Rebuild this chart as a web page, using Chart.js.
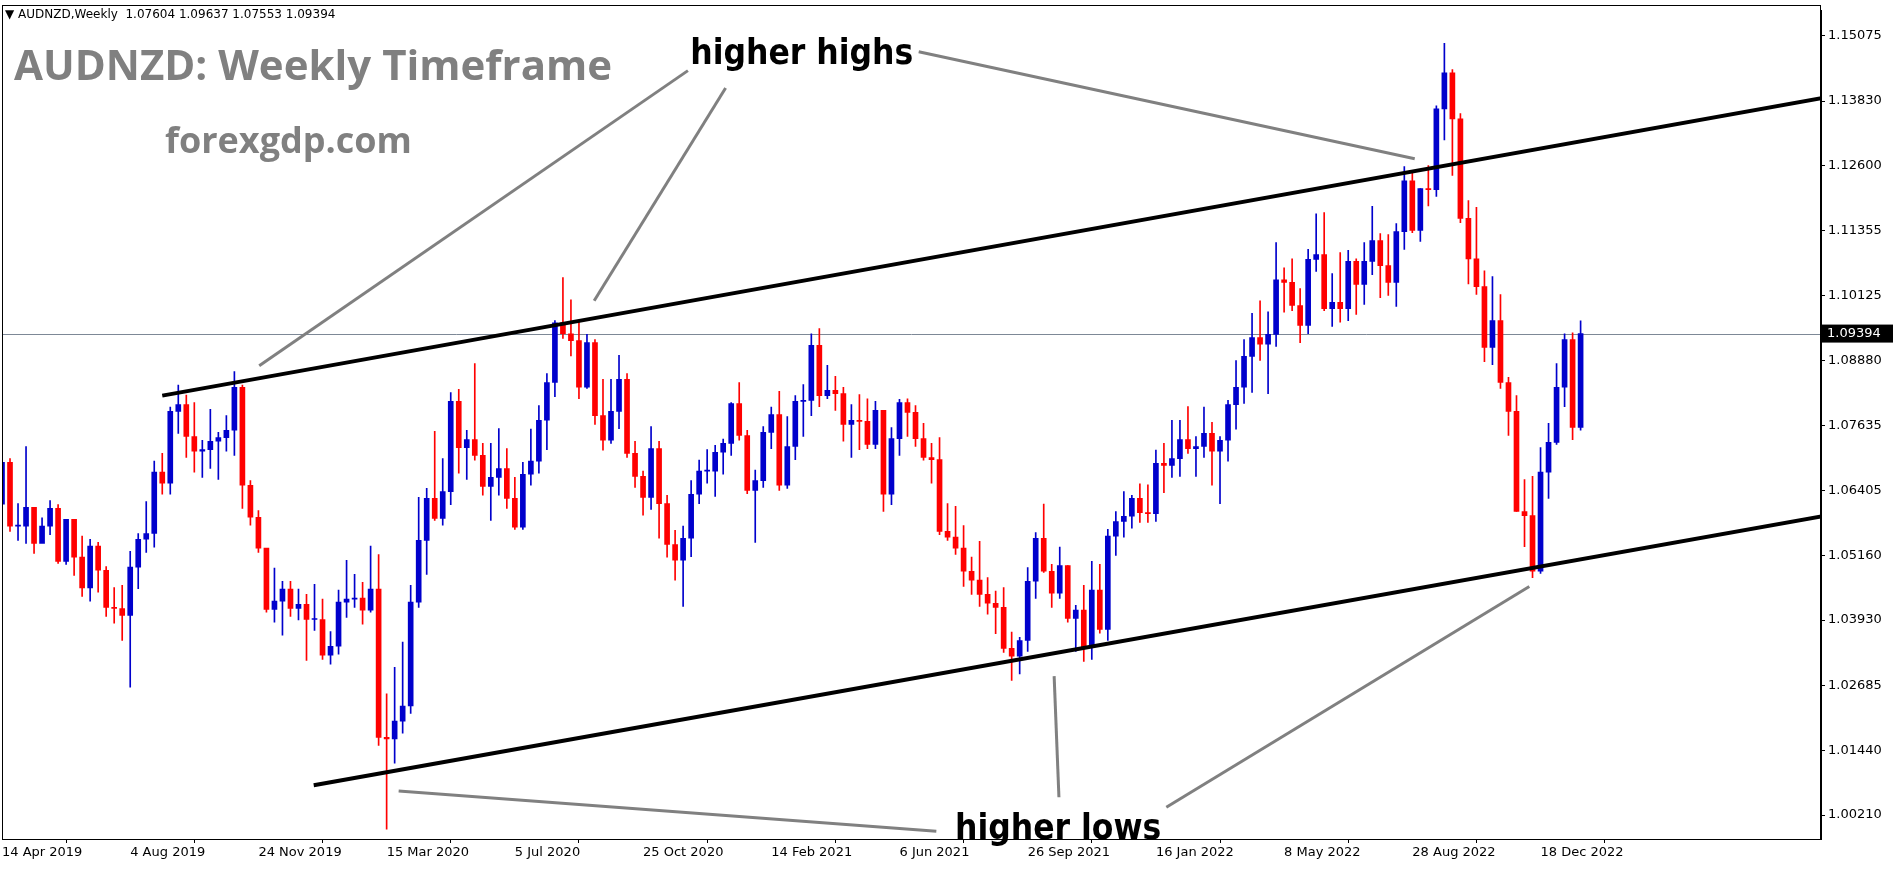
<!DOCTYPE html>
<html>
<head>
<meta charset="utf-8">
<script src="https://cdn.jsdelivr.net/npm/chart.js@4.4.0/dist/chart.umd.min.js"></script>
<style>
  html, body { margin: 0; padding: 0; background: #fff; overflow: hidden; }
  #wrap { position: relative; width: 1893px; height: 875px; }
</style>
</head>
<body>
<div id="wrap"><canvas id="grafico" width="1893" height="875"></canvas></div>
<script>
// weekly AUDNZD candles, first candle = week of 14 Apr 2019
var primeira_abertura = 1.0614;
var fechamentos = [
  1.0694,1.0572,1.0572,1.0608,1.0539,1.0572,1.0606,1.0505,1.0585,1.0513,1.0454,1.0534,1.0488,1.0417,1.0415,1.0402,
  1.0494,1.0547,1.0558,1.0675,1.0654,1.0791,1.0804,1.0743,1.0715,1.0718,1.0734,1.0741,1.0755,1.0837,1.0650,1.0589,
  1.0530,1.0413,1.0429,1.0452,1.0415,1.0423,1.0394,1.0394,1.0326,1.0343,1.0427,1.0433,1.0435,1.0412,1.0452,1.0169,
  1.0166,1.0200,1.0229,1.0427,1.0545,1.0625,1.0587,1.0638,1.0810,1.0722,1.0737,1.0707,1.0648,1.0665,1.0682,1.0625,
  1.0570,1.0671,1.0696,1.0774,1.0846,1.0960,1.0939,1.0926,1.0837,1.0922,1.0783,1.0736,1.0791,1.0852,1.0711,1.0667,
  1.0627,1.0720,1.0615,1.0537,1.0507,1.0549,1.0633,1.0677,1.0677,1.0713,1.0730,1.0806,1.0745,1.0640,1.0659,1.0751,
  1.0785,1.0650,1.0724,1.0810,1.0812,1.0917,1.0821,1.0831,1.0825,1.0766,1.0774,1.0772,1.0728,1.0793,1.0633,1.0739,
  1.0808,1.0789,1.0739,1.0703,1.0699,1.0562,1.0551,1.0530,1.0486,1.0469,1.0442,1.0425,1.0417,1.0339,1.0324,1.0354,
  1.0467,1.0549,1.0486,1.0444,1.0497,1.0396,1.0412,1.0341,1.0450,1.0375,1.0553,1.0581,1.0591,1.0625,1.0598,1.0596,
  1.0692,1.0688,1.0701,1.0737,1.0720,1.0724,1.0749,1.0715,1.0736,1.0804,1.0837,1.0896,1.0932,1.0919,1.0938,1.1042,
  1.1037,1.0993,1.0955,1.1081,1.1090,1.0987,1.0999,1.0987,1.1077,1.1033,1.1077,1.1117,1.1069,1.1037,1.1134,1.1231,
  1.1136,1.1216,1.1214,1.1368,1.1437,1.1349,1.1159,1.1082,1.1029,1.0913,1.0964,1.0846,1.0791,1.0600,1.0592,1.0486,
  1.0675,1.0732,1.0837,1.0928,1.07604,1.09394
];
var maximas = [
  1.0732,1.0701,1.0615,1.0724,1.0598,1.0588,1.0621,1.0613,1.0579,1.0579,1.0553,1.0547,1.0541,1.0495,1.0455,1.0459,
  1.0524,1.0558,1.0619,1.0696,1.0711,1.0799,1.0841,1.0822,1.0808,1.0736,1.0795,1.0751,1.0783,1.0867,1.0841,1.0659,
  1.0602,1.0528,1.0492,1.0467,1.0467,1.0452,1.0442,1.0461,1.0433,1.0371,1.0450,1.0507,1.0480,1.0465,1.0534,1.0518,
  1.0252,1.0303,1.0351,1.0459,1.0627,1.0644,1.0753,1.0701,1.0827,1.0833,1.0755,1.0882,1.0730,1.0730,1.0758,1.0720,
  1.0665,1.0694,1.0757,1.0802,1.0863,1.0964,1.1046,1.1004,1.0964,1.0938,1.0928,1.0852,1.0852,1.0898,1.0863,1.0734,
  1.0677,1.0762,1.0734,1.0631,1.0564,1.0572,1.0659,1.0698,1.0718,1.0726,1.0738,1.0808,1.0846,1.0755,1.0679,1.0762,
  1.0799,1.0829,1.0781,1.0821,1.0842,1.0939,1.0949,1.0879,1.0858,1.0837,1.0804,1.0823,1.0815,1.0810,1.0793,1.0760,
  1.0814,1.0815,1.0802,1.0768,1.0730,1.0741,1.0615,1.0610,1.0573,1.0513,1.0543,1.0474,1.0448,1.0455,1.0370,1.0360,
  1.0493,1.0560,1.0614,1.0499,1.0532,1.0497,1.0421,1.0459,1.0505,1.0499,1.0566,1.0600,1.0638,1.0631,1.0653,1.0651,
  1.0717,1.0730,1.0774,1.0774,1.0800,1.0743,1.0799,1.0770,1.0743,1.0812,1.0888,1.0928,1.0978,1.1002,1.0981,1.1113,
  1.1065,1.1082,1.1025,1.1100,1.1168,1.1170,1.1054,1.1094,1.1098,1.1082,1.1113,1.1182,1.1130,1.1128,1.1149,1.1258,
  1.1246,1.1216,1.1260,1.1374,1.1493,1.1443,1.1359,1.1193,1.1180,1.1059,1.1048,1.1014,1.0856,1.0821,1.0661,1.0667,
  1.0722,1.0768,1.0882,1.0939,1.0941,1.09637
];
var minimas = [
  1.0572,1.0562,1.0545,1.0539,1.0520,1.0551,1.0556,1.0501,1.0499,1.0478,1.0438,1.0429,1.0446,1.0400,1.0387,1.0354,
  1.0265,1.0453,1.0522,1.0532,1.0633,1.0633,1.0749,1.0703,1.0675,1.0665,1.0682,1.0661,1.0715,1.0707,1.0606,1.0574,
  1.0522,1.0408,1.0389,1.0364,1.0400,1.0393,1.0316,1.0373,1.0318,1.0309,1.0328,1.0398,1.0417,1.0385,1.0408,1.0154,
  0.9994,1.0120,1.0177,1.0215,1.0417,1.0480,1.0583,1.0574,1.0613,1.0673,1.0661,1.0698,1.0631,1.0583,1.0631,1.0606,
  1.0566,1.0566,1.0650,1.0673,1.0718,1.0819,1.0930,1.0897,1.0815,1.0835,1.0766,1.0717,1.0730,1.0758,1.0703,1.0646,
  1.0593,1.0604,1.0549,1.0513,1.0469,1.0419,1.0514,1.0615,1.0654,1.0629,1.0671,1.0707,1.0736,1.0634,1.0541,1.0646,
  1.0720,1.0640,1.0644,1.0699,1.0743,1.0783,1.0800,1.0815,1.0793,1.0734,1.0703,1.0718,1.0720,1.0720,1.0600,1.0613,
  1.0707,1.0743,1.0724,1.0698,1.0654,1.0556,1.0545,1.0518,1.0457,1.0442,1.0419,1.0404,1.0367,1.0331,1.0278,1.0290,
  1.0333,1.0434,1.0484,1.0417,1.0434,1.0389,1.0333,1.0314,1.0318,1.0368,1.0354,1.0516,1.0551,1.0568,1.0579,1.0579,
  1.0581,1.0636,1.0665,1.0667,1.0711,1.0667,1.0703,1.0650,1.0615,1.0696,1.0757,1.0806,1.0827,1.0888,1.0825,1.0915,
  1.0980,1.0983,1.0922,1.0939,1.1058,1.0983,1.0953,1.0961,1.0964,1.0976,1.0995,1.1052,1.1008,1.1012,1.0991,1.1100,
  1.1132,1.1115,1.1183,1.1201,1.1309,1.1241,1.1151,1.1034,1.1014,1.0886,1.0880,1.0835,1.0745,1.0600,1.0533,1.0474,
  1.0482,1.0625,1.0728,1.0800,1.0737,1.07553
];
var rotulos_datas = ["14 Apr 2019","4 Aug 2019","24 Nov 2019","15 Mar 2020","5 Jul 2020","25 Oct 2020",
  "14 Feb 2021","6 Jun 2021","26 Sep 2021","16 Jan 2022","8 May 2022","28 Aug 2022","18 Dec 2022"];
var semanas_por_rotulo = 16;
var semanas_vazias = 30;
var ticks_preco = [1.00210,1.01440,1.02685,1.03930,1.05160,1.06405,1.07635,1.08880,1.10125,1.11355,1.12600,1.13830,1.15075];
var preco_atual = 1.09394;
// channel lines and callouts as [week index, price]
var linha_superior = [[20, 1.0821], [227.2, 1.1389]];
var linha_inferior = [[38.9, 1.0078], [227.2, 1.0591]];
var setas_maximas = [[[85.6, 1.1441], [32.1, 1.0878]], [[90.3, 1.1408], [73.9, 1.1002]], [[114.4, 1.1477], [176.3, 1.1273]]];
var setas_minimas = [[[49.5, 1.0067], [116.6, 0.9990]], [[131.3, 1.0286], [131.9, 1.0055]], [[145.3, 1.0036], [190.6, 1.0457]]];

var AZUL = "#0000cc", VERMELHO = "#ff0000";
var FONTE_EIXO = "'DejaVu Sans', sans-serif";

var n = fechamentos.length;
var categorias = [], corpos = [], pavios = [], cores = [];
for (var i = 0; i < n + semanas_vazias; i++) {
    categorias.push(i);
    if (i < n) {
        var abertura = i === 0 ? primeira_abertura : fechamentos[i - 1];
        corpos.push([abertura, fechamentos[i]]);
        pavios.push([minimas[i], maximas[i]]);
        cores.push(fechamentos[i] >= abertura ? AZUL : VERMELHO);
    } else {
        corpos.push(null);
        pavios.push(null);
    }
}

function ponto(chart, p) {
    return [chart.scales.x.getPixelForValue(p[0]), chart.scales.y.getPixelForValue(p[1])];
}
function linha(ctx, a, b) {
    ctx.beginPath(); ctx.moveTo(a[0], a[1]); ctx.lineTo(b[0], b[1]); ctx.stroke();
}

var desenhos = {
    id: "desenhos",
    beforeDatasetsDraw: function(chart) {
        var ctx = chart.ctx, area = chart.chartArea;
        var y = chart.scales.y.getPixelForValue(preco_atual);
        ctx.save();
        ctx.strokeStyle = "#7d8896"; ctx.lineWidth = 1;
        linha(ctx, [area.left, Math.round(y) + 0.5], [area.right, Math.round(y) + 0.5]);
        ctx.restore();
    },
    afterDatasetsDraw: function(chart) {
        var ctx = chart.ctx, area = chart.chartArea;
        ctx.save();
        ctx.beginPath(); ctx.rect(area.left, area.top, area.right - area.left, area.bottom - area.top); ctx.clip();
        ctx.strokeStyle = "#808080"; ctx.lineWidth = 3;
        setas_maximas.concat(setas_minimas).forEach(function(s) { linha(ctx, ponto(chart, s[0]), ponto(chart, s[1])); });
        ctx.strokeStyle = "#000"; ctx.lineWidth = 4;
        linha(ctx, ponto(chart, linha_superior[0]), ponto(chart, linha_superior[1]));
        linha(ctx, ponto(chart, linha_inferior[0]), ponto(chart, linha_inferior[1]));
        ctx.restore();

        ctx.save();
        ctx.fillStyle = "#000"; ctx.textAlign = "center"; ctx.textBaseline = "middle";
        ctx.font = "bold 35px 'Liberation Sans Narrow', 'DejaVu Sans Condensed', sans-serif";
        var t = ponto(chart, [99.8, 1.1471]);
        ctx.fillText("higher highs", t[0], t[1]);
        t = ponto(chart, [131.8, 0.9992]);
        ctx.fillText("higher lows", t[0], t[1]);

        ctx.fillStyle = "#808080"; ctx.textAlign = "left";
        ctx.font = "bold 42px 'Open Sans', sans-serif";
        ctx.fillText("AUDNZD: Weekly Timeframe", 14, 68);
        ctx.font = "bold 36px 'Open Sans', sans-serif";
        ctx.fillText("forexgdp.com", 165, 143);

        ctx.fillStyle = "#000"; ctx.font = "12px " + FONTE_EIXO;
        ctx.fillText("\u25BC AUDNZD,Weekly  1.07604 1.09637 1.07553 1.09394", 5, 15);

        ctx.strokeStyle = "#000"; ctx.lineWidth = 1;
        ctx.strokeRect(area.left + 0.5, 5.5, area.right - area.left - 1, area.bottom - 5);
        var yp = chart.scales.y.getPixelForValue(preco_atual);
        ctx.fillStyle = "#000";
        ctx.fillRect(area.right, yp - 9, 72, 18);
        ctx.fillStyle = "#fff"; ctx.textBaseline = "middle";
        ctx.font = "13px " + FONTE_EIXO;
        ctx.fillText(preco_atual.toFixed(5), area.right + 6, yp);
        ctx.restore();
    }
};

var canvas = document.getElementById("grafico");
var chart = new Chart(canvas, {
    type: "bar",
    data: {
        labels: categorias,
        datasets: [
            { data: pavios, backgroundColor: cores, barThickness: 1, grouped: false, order: 2 },
            { data: corpos, backgroundColor: cores, barThickness: 5, grouped: false, order: 1, minBarLength: 1 }
        ]
    },
    options: {
        responsive: false,
        devicePixelRatio: 1,
        animation: false,
        layout: { padding: { top: 5, left: 0, right: 0, bottom: 0 } },
        plugins: { legend: { display: false }, tooltip: { enabled: false } },
        scales: {
            x: {
                type: "category",
                offset: false,
                grid: { drawOnChartArea: false, tickLength: 4, color: "#000" },
                border: { color: "#000" },
                ticks: {
                    autoSkip: false, maxRotation: 0, align: "start", padding: 2, color: "#000",
                    font: { family: FONTE_EIXO, size: 13 },
                    callback: function(v) {
                        return rotulos_datas[categorias[v] / semanas_por_rotulo] || "";
                    }
                },
                afterBuildTicks: function(scale) {
                    scale.ticks = scale.ticks.filter(function(t) {
                        return t.value % semanas_por_rotulo === 0 && t.value / semanas_por_rotulo < rotulos_datas.length;
                    });
                },
                afterFit: function(scale) { scale.height = 36; }
            },
            y: {
                position: "right",
                min: 0.99753,
                max: 1.15551,
                grid: { drawOnChartArea: false, tickLength: 4, color: "#000" },
                border: { color: "#000" },
                ticks: {
                    color: "#000", padding: 3,
                    font: { family: FONTE_EIXO, size: 13 },
                    callback: function(v) { return v.toFixed(5); }
                },
                afterBuildTicks: function(scale) {
                    scale.ticks = ticks_preco.map(function(v) { return { value: v }; });
                },
                afterFit: function(scale) { scale.width = 72; }
            }
        }
    },
    plugins: [desenhos]
});
</script>
</body>
</html>
